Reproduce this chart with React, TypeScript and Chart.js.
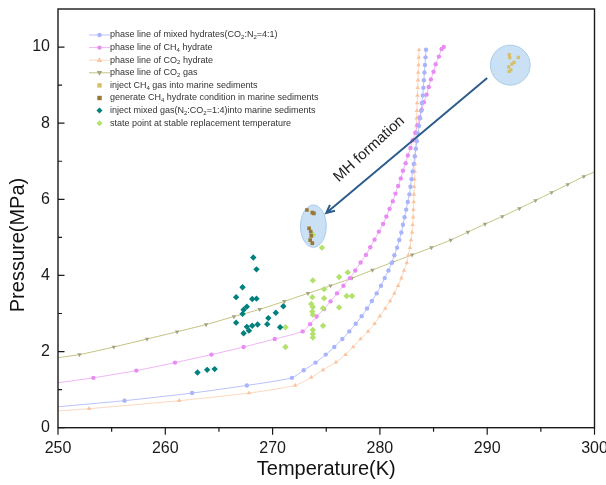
import React, { useEffect, useRef } from 'react';
import { Chart, registerables } from 'chart.js';
Chart.register(...registerables);

// ---- axes ----
const xTicks = [250, 260, 270, 280, 290, 300];
const xMinor = [255, 265, 275, 285, 295];
const yTicks = [0, 2, 4, 6, 8, 10];
const yMinor = [1, 3, 5, 7, 9];

// ---- phase line of mixed hydrates (CO2:N2=4:1) ----
const mixedT = [250, 256.2, 262.5, 267.6, 271.8, 272.9, 274.0, 274.95, 275.75, 276.5, 277.15, 277.75, 278.3, 278.8, 279.25, 279.7, 280.1, 280.45, 280.8, 281.1, 281.35, 281.6, 281.8, 282.0, 282.15, 282.3, 282.45, 282.6, 282.75, 282.85, 282.95, 283.05, 283.15, 283.25, 283.35, 283.45, 283.55, 283.65, 283.75, 283.85, 283.9, 284.0, 284.05, 284.1, 284.15, 284.2, 284.25, 284.3];
const mixedP = [0.55, 0.71, 0.91, 1.11, 1.31, 1.51, 1.71, 1.92, 2.12, 2.33, 2.53, 2.73, 2.93, 3.13, 3.33, 3.53, 3.73, 3.93, 4.13, 4.33, 4.53, 4.73, 4.93, 5.13, 5.33, 5.53, 5.73, 5.93, 6.13, 6.33, 6.53, 6.73, 6.93, 7.13, 7.33, 7.53, 7.73, 7.93, 8.13, 8.33, 8.53, 8.73, 8.93, 9.13, 9.33, 9.53, 9.73, 9.93];

// ---- phase line of CH4 hydrate ----
const ch4T = [250, 253.3, 257.3, 260.9, 264.3, 267.3, 270.2, 272.8, 273.5, 274.1, 274.8, 275.4, 276.0, 276.6, 277.2, 277.7, 278.2, 278.7, 279.1, 279.5, 279.9, 280.3, 280.6, 280.9, 281.2, 281.45, 281.7, 281.95, 282.15, 282.4, 282.6, 282.85, 283.05, 283.3, 283.5, 283.7, 283.9, 284.1, 284.35, 284.55, 284.75, 285.0, 285.2, 285.5, 285.75, 285.95];
const ch4P = [1.18, 1.31, 1.50, 1.71, 1.92, 2.12, 2.33, 2.53, 2.72, 2.92, 3.12, 3.32, 3.53, 3.73, 3.93, 4.13, 4.34, 4.54, 4.74, 4.94, 5.15, 5.35, 5.55, 5.75, 5.95, 6.15, 6.35, 6.55, 6.75, 6.95, 7.15, 7.35, 7.55, 7.75, 7.95, 8.15, 8.35, 8.55, 8.75, 8.95, 9.15, 9.35, 9.55, 9.75, 9.95, 10.0];

// ---- phase line of CO2 hydrate ----
const co2hT = [250, 252.9, 261.3, 267.8, 272.1, 273.6, 274.7, 275.9, 276.8, 277.5, 278.2, 278.9, 279.5, 280.0, 280.5, 280.95, 281.35, 281.7, 282.0, 282.25, 282.5, 282.65, 282.8, 282.9, 283.0, 283.05, 283.1, 283.12, 283.15, 283.17, 283.2, 283.22, 283.25, 283.27, 283.3, 283.32, 283.35, 283.37, 283.4, 283.42, 283.45, 283.47, 283.5, 283.52, 283.55, 283.57, 283.6, 283.62, 283.65];
const co2hP = [0.44, 0.50, 0.71, 0.91, 1.11, 1.32, 1.52, 1.72, 1.92, 2.12, 2.33, 2.53, 2.73, 2.93, 3.13, 3.33, 3.53, 3.73, 3.93, 4.13, 4.33, 4.53, 4.73, 4.93, 5.13, 5.33, 5.53, 5.73, 5.93, 6.13, 6.33, 6.53, 6.73, 6.93, 7.13, 7.33, 7.53, 7.73, 7.93, 8.13, 8.33, 8.53, 8.73, 8.93, 9.13, 9.33, 9.53, 9.73, 9.93];

// ---- phase line of CO2 gas ----
const co2gT = [250, 252.0, 255.2, 258.3, 261.1, 263.8, 266.4, 268.8, 271.1, 273.3, 275.4, 277.4, 279.3, 281.2, 283.0, 284.8, 286.6, 288.2, 289.8, 291.4, 293.0, 294.5, 296.0, 297.5, 299.0, 300];
const co2gP = [1.84, 1.92, 2.12, 2.33, 2.52, 2.71, 2.92, 3.11, 3.32, 3.53, 3.73, 3.93, 4.14, 4.35, 4.54, 4.73, 4.93, 5.14, 5.35, 5.55, 5.76, 5.97, 6.18, 6.39, 6.60, 6.72];

// ---- inject CH4 gas into marine sediments ----
const injCh4T = [292.05, 292.1, 292.9, 292.5, 292.3, 292.0, 292.2, 292.05];
const injCh4P = [9.8, 9.72, 9.73, 9.6, 9.55, 9.48, 9.4, 9.36];

// ---- generate CH4 hydrate condition in marine sediments ----
const genT = [273.2, 273.7, 273.85, 273.4, 273.55, 273.6, 273.5, 273.7];
const genP = [5.72, 5.65, 5.63, 5.24, 5.15, 5.04, 4.93, 4.85];

// ---- inject mixed gas (N2:CO2=1:4) into marine sediments ----
const mixGasT = [268.2, 268.5, 267.2, 266.6, 268.1, 268.5, 267.6, 267.3, 267.2, 270.3, 271.0, 269.6, 266.6, 269.5, 270.7, 268.6, 268.1, 267.6, 267.8, 267.3, 263.0, 263.9, 264.6];
const mixGasP = [4.47, 4.16, 3.69, 3.43, 3.38, 3.39, 3.18, 3.10, 2.99, 3.02, 3.19, 2.88, 2.76, 2.72, 2.64, 2.71, 2.68, 2.65, 2.55, 2.48, 1.45, 1.52, 1.54];

// ---- state point at stable replacement temperature ----
const stateT = [274.6, 273.75, 273.75, 277.0, 276.2, 274.8, 273.7, 274.8, 276.9, 277.4, 273.6, 273.75, 274.7, 276.2, 273.7, 273.75, 271.2, 274.7, 273.75, 273.75, 273.75, 271.2];
const stateP = [4.73, 5.07, 3.87, 4.08, 3.96, 3.64, 3.43, 3.40, 3.46, 3.46, 3.25, 3.17, 3.14, 3.16, 3.05, 2.97, 2.64, 2.68, 2.57, 2.46, 2.37, 2.12];

// ---- annotations (data units) ----
const ellipseT = [[272.6, 275.0], [290.3, 294.0]];
const ellipseP = [[4.74, 5.85], [9.0, 10.05]];
const arrowT = [290.0, 275.0];
const arrowP = [9.19, 5.64];
const labelT = 279.0;
const labelP = 7.32;
const labelText = 'MH formation';

const FONT = '"Liberation Sans", Arial, sans-serif';

const pts = (t: number[], p: number[]) => t.slice(0, Math.min(t.length, p.length)).map((v, i) => ({ x: v, y: p[i] }));

const C = {
  mixedLine: 'rgba(160,172,250,0.75)', mixedPt: '#aab4fb',
  ch4Line: 'rgba(238,160,246,0.8)', ch4Pt: '#e88cf4',
  co2hLine: 'rgba(250,205,175,0.8)', co2hPt: '#fbc4a0',
  co2gLine: '#c2c280', co2gPt: '#a5a585',
  injCh4: '#d6bf66', gen: '#9a7838', mixGas: '#00807e', state: '#b2e26c',
};

function marker(ctx: CanvasRenderingContext2D, style: string, x: number, y: number, r: number, color: string) {
  ctx.save();
  ctx.fillStyle = color;
  ctx.beginPath();
  if (style === 'circle') ctx.arc(x, y, r, 0, Math.PI * 2);
  else if (style === 'rect') ctx.rect(x - r, y - r, 2 * r, 2 * r);
  else if (style === 'tri') { ctx.moveTo(x, y - r); ctx.lineTo(x + r * 0.9, y + r * 0.6); ctx.lineTo(x - r * 0.9, y + r * 0.6); }
  else if (style === 'triDown') { ctx.moveTo(x, y + r); ctx.lineTo(x + r * 0.9, y - r * 0.6); ctx.lineTo(x - r * 0.9, y - r * 0.6); }
  else if (style === 'diamond') { ctx.moveTo(x, y - r); ctx.lineTo(x + r, y); ctx.lineTo(x, y + r); ctx.lineTo(x - r, y); }
  ctx.closePath();
  ctx.fill();
  ctx.restore();
}

type Run = [string, boolean];
const legendItems: { runs: Run[]; line?: string; style: string; color: string; r: number }[] = [
  { runs: [['phase line of mixed hydrates(CO', false], ['2', true], [':N', false], ['2', true], ['=4:1)', false]], line: C.mixedLine, style: 'circle', color: C.mixedPt, r: 2.2 },
  { runs: [['phase line of CH', false], ['4', true], [' hydrate', false]], line: C.ch4Line, style: 'circle', color: C.ch4Pt, r: 2.2 },
  { runs: [['phase line of CO', false], ['2', true], [' hydrate', false]], line: C.co2hLine, style: 'tri', color: C.co2hPt, r: 3 },
  { runs: [['phase line of CO', false], ['2', true], [' gas', false]], line: C.co2gLine, style: 'triDown', color: C.co2gPt, r: 3 },
  { runs: [['inject CH', false], ['4', true], [' gas into marine sediments', false]], style: 'rect', color: C.injCh4, r: 2.2 },
  { runs: [['generate CH', false], ['4', true], [' hydrate condition in marine sediments', false]], style: 'rect', color: C.gen, r: 2.2 },
  { runs: [['inject mixed gas(N', false], ['2', true], [':CO', false], ['2', true], ['=1:4)into marine sediments', false]], style: 'diamond', color: C.mixGas, r: 3 },
  { runs: [['state point at stable replacement temperature', false]], style: 'diamond', color: C.state, r: 3 },
];

const decor = {
  id: 'decor',
  beforeDatasetsDraw(chart: any) {
    const { ctx, scales: { x, y } } = chart;
    ctx.save();
    ellipseT.forEach((tr, i) => {
      const x0 = x.getPixelForValue(tr[0]), x1 = x.getPixelForValue(tr[1]);
      const y0 = y.getPixelForValue(ellipseP[i][0]), y1 = y.getPixelForValue(ellipseP[i][1]);
      ctx.beginPath();
      ctx.ellipse((x0 + x1) / 2, (y0 + y1) / 2, Math.abs(x1 - x0) / 2, Math.abs(y1 - y0) / 2, 0, 0, Math.PI * 2);
      ctx.fillStyle = 'rgba(196,222,244,0.9)';
      ctx.fill();
      ctx.strokeStyle = '#a7cbea';
      ctx.lineWidth = 1;
      ctx.stroke();
    });
    ctx.restore();
  },
  afterDraw(chart: any) {
    const { ctx, chartArea: a, scales: { x, y } } = chart;
    ctx.save();
    // frame
    ctx.strokeStyle = '#1a1a1a';
    ctx.lineWidth = 1.4;
    ctx.strokeRect(a.left, a.top, a.right - a.left, a.bottom - a.top);
    // x ticks (outward)
    ctx.lineWidth = 1.2;
    ctx.beginPath();
    xTicks.forEach(v => { const px = x.getPixelForValue(v); ctx.moveTo(px, a.bottom); ctx.lineTo(px, a.bottom + 7); });
    xMinor.forEach(v => { const px = x.getPixelForValue(v); ctx.moveTo(px, a.bottom); ctx.lineTo(px, a.bottom + 4); });
    // y ticks (inward)
    yTicks.forEach(v => { const py = y.getPixelForValue(v); ctx.moveTo(a.left, py); ctx.lineTo(a.left + 6.5, py); });
    yMinor.forEach(v => { const py = y.getPixelForValue(v); ctx.moveTo(a.left, py); ctx.lineTo(a.left + 4, py); });
    ctx.stroke();

    // arrow
    const ax0 = x.getPixelForValue(arrowT[0]), ay0 = y.getPixelForValue(arrowP[0]);
    const ax1 = x.getPixelForValue(arrowT[1]), ay1 = y.getPixelForValue(arrowP[1]);
    ctx.strokeStyle = '#2d5d8c';
    ctx.lineWidth = 2;
    ctx.beginPath();
    ctx.moveTo(ax0, ay0);
    ctx.lineTo(ax1, ay1);
    const ang = Math.atan2(ay1 - ay0, ax1 - ax0);
    const hl = 9;
    ctx.moveTo(ax1 - hl * Math.cos(ang - 0.45), ay1 - hl * Math.sin(ang - 0.45));
    ctx.lineTo(ax1, ay1);
    ctx.lineTo(ax1 - hl * Math.cos(ang + 0.45), ay1 - hl * Math.sin(ang + 0.45));
    ctx.stroke();

    // MH formation label
    ctx.save();
    ctx.translate(x.getPixelForValue(labelT), y.getPixelForValue(labelP));
    ctx.rotate(Math.atan2(ay0 - ay1, ax0 - ax1) * 0 + Math.atan2(-(ay1 - ay0), -(ax1 - ax0)) - 0.04);
    ctx.fillStyle = '#222';
    ctx.font = `15px ${FONT}`;
    ctx.textAlign = 'center';
    ctx.textBaseline = 'middle';
    ctx.fillText(labelText, 0, 0);
    ctx.restore();

    // axis titles
    ctx.fillStyle = '#111';
    ctx.font = `20px ${FONT}`;
    ctx.textAlign = 'center';
    ctx.textBaseline = 'middle';
    ctx.fillText('Temperature(K)', (a.left + a.right) / 2, 469);
    ctx.save();
    ctx.translate(18, 245);
    ctx.rotate(-Math.PI / 2);
    ctx.fillText('Pressure(MPa)', 0, 0);
    ctx.restore();

    // legend
    const rowY0 = 35, rowH = 12.6, textX = 110, mX = 99.5;
    legendItems.forEach((it, i) => {
      const ry = rowY0 + i * rowH;
      if (it.line) {
        ctx.strokeStyle = it.line;
        ctx.lineWidth = 1;
        ctx.beginPath();
        ctx.moveTo(89, ry);
        ctx.lineTo(110, ry);
        ctx.stroke();
      }
      marker(ctx, it.style, mX, ry, it.r, it.color);
      let cx = textX;
      ctx.textAlign = 'left';
      ctx.textBaseline = 'middle';
      ctx.fillStyle = '#333';
      it.runs.forEach(([t, sub]) => {
        ctx.font = sub ? `6px ${FONT}` : `9px ${FONT}`;
        ctx.fillText(t, cx, sub ? ry + 2.5 : ry);
        cx += ctx.measureText(t).width;
      });
    });
    ctx.restore();
  },
};

export default function App() {
  const ref = useRef<HTMLCanvasElement>(null);
  useEffect(() => {
    const endless = (n: number) => (ctx: any) => (ctx.dataIndex === 0 || (n && ctx.dataIndex === ctx.dataset.data.length - 1) ? 0 : undefined);
    const lineDs = (label: string, t: number[], p: number[], line: string, pt: string, style: string, r: number, rot: number, hideLast: number) => ({
      label,
      data: pts(t, p),
      showLine: true,
      borderColor: line,
      borderWidth: 1,
      backgroundColor: pt,
      pointBackgroundColor: pt,
      pointBorderColor: pt,
      pointBorderWidth: 0,
      pointStyle: style,
      pointRotation: rot,
      pointRadius: (ctx: any) => endless(hideLast)(ctx) ?? r,
      tension: 0.2,
      order: 10,
    });
    const scatDs = (label: string, t: number[], p: number[], color: string, style: string, r: number) => ({
      label,
      data: pts(t, p),
      showLine: false,
      backgroundColor: color,
      pointBackgroundColor: color,
      pointBorderColor: color,
      pointBorderWidth: 0,
      pointStyle: style,
      pointRadius: r,
      order: 1,
    });
    const chart = new Chart(ref.current as HTMLCanvasElement, {
      type: 'scatter',
      data: {
        datasets: [
          scatDs('inject CH4 gas into marine sediments', injCh4T, injCh4P, C.injCh4, 'rect', 2.3),
          scatDs('generate CH4 hydrate condition in marine sediments', genT, genP, C.gen, 'rect', 2.6),
          scatDs('inject mixed gas(N2:CO2=1:4)into marine sediments', mixGasT, mixGasP, C.mixGas, 'rectRot', 3.2),
          scatDs('state point at stable replacement temperature', stateT, stateP, C.state, 'rectRot', 3.2),
          lineDs('phase line of mixed hydrates(CO2:N2=4:1)', mixedT, mixedP, C.mixedLine, C.mixedPt, 'circle', 2.2, 0, 0),
          lineDs('phase line of CH4 hydrate', ch4T, ch4P, C.ch4Line, C.ch4Pt, 'circle', 2.2, 0, 0),
          lineDs('phase line of CO2 hydrate', co2hT, co2hP, C.co2hLine, C.co2hPt, 'triangle', 2.6, 0, 0),
          lineDs('phase line of CO2 gas', co2gT, co2gP, C.co2gLine, C.co2gPt, 'triangle', 2.6, 180, 1),
        ] as any,
      },
      options: {
        animation: false,
        responsive: false,
        layout: { padding: { top: 9, right: 11.5, left: 0, bottom: 0 } },
        plugins: { legend: { display: false }, tooltip: { enabled: false } },
        scales: {
          x: {
            type: 'linear', min: 250, max: 300,
            afterBuildTicks: (s: any) => { s.ticks = xTicks.map(v => ({ value: v })); },
            afterFit: (s: any) => { s.height = 57.3; s.paddingLeft = 0; s.paddingRight = 0; },
            grid: { display: false, drawTicks: false },
            border: { display: false },
            ticks: { font: { size: 16, family: FONT }, color: '#1a1a1a', padding: 11, maxRotation: 0, autoSkip: false },
          },
          y: {
            type: 'linear', min: 0, max: 11,
            afterBuildTicks: (s: any) => { s.ticks = yTicks.map(v => ({ value: v })); },
            afterFit: (s: any) => { s.width = 58; s.paddingTop = 0; s.paddingBottom = 0; },
            grid: { display: false, drawTicks: false },
            border: { display: false },
            ticks: { font: { size: 16, family: FONT }, color: '#1a1a1a', padding: 8 },
          },
        },
      } as any,
      plugins: [decor],
    });
    return () => chart.destroy();
  }, []);
  return (
    <div style={{ position: 'fixed', left: 0, top: 0, width: 606, height: 485, background: '#fff' }}>
      <canvas ref={ref} width={606} height={485} style={{ display: 'block' }} />
    </div>
  );
}
